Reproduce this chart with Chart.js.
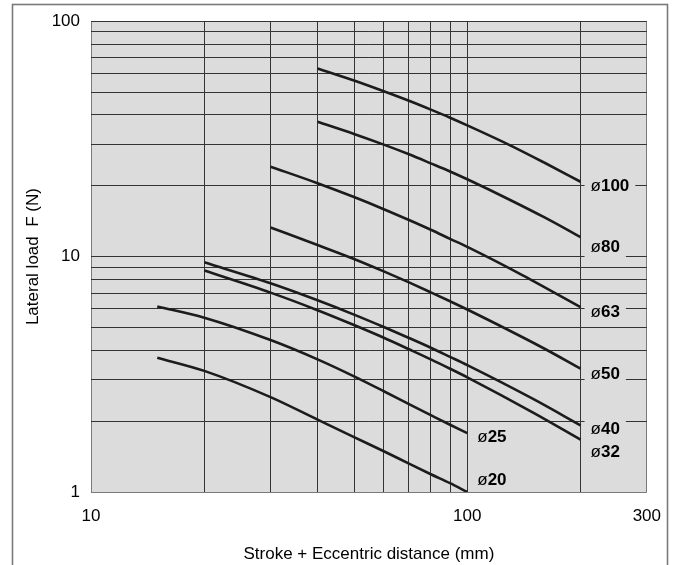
<!DOCTYPE html>
<html>
<head>
<meta charset="utf-8">
<script src="https://cdn.jsdelivr.net/npm/chart.js@4.4.0/dist/chart.umd.min.js"></script>
<style>
  html, body { margin: 0; padding: 0; background: #fff; }
  #wrap { width: 675px; height: 565px; }
</style>
</head>
<body>
<div id="wrap"><canvas id="chart" width="675" height="565"></canvas></div>
<script>
// Stroke + eccentric distance (mm) and lateral load F (N), one pair per bore
const bores = ['ø100', 'ø80', 'ø63', 'ø50', 'ø40', 'ø32', 'ø25', 'ø20'];

const stroke100 = [40, 50, 60, 70, 80, 90, 100, 130, 160, 200];
const load100   = [63.0, 56.0, 50.4, 45.9, 42.1, 38.9, 36.1, 29.7, 25.1, 20.8];

const stroke80  = [40, 50, 60, 70, 80, 90, 100, 130, 160, 200];
const load80    = [37.4, 33.2, 29.9, 27.2, 24.9, 23.0, 21.3, 17.4, 14.7, 12.1];

const stroke63  = [30, 40, 50, 60, 70, 80, 90, 100, 140, 200];
const load63    = [24.1, 20.5, 17.9, 15.9, 14.3, 13.0, 11.9, 11.0, 8.35, 6.1];

const stroke50  = [30, 40, 50, 60, 70, 80, 90, 100, 160, 200];
const load50    = [13.3, 11.2, 9.77, 8.65, 7.77, 7.05, 6.46, 5.96, 4.07, 3.34];

const stroke40  = [20, 30, 40, 50, 60, 70, 80, 90, 100, 150, 200];
const load40    = [9.46, 7.70, 6.52, 5.67, 5.02, 4.51, 4.10, 3.75, 3.46, 2.48, 1.92];

const stroke32  = [20, 30, 40, 50, 60, 70, 80, 90, 100, 150, 200];
const load32    = [8.72, 7.03, 5.92, 5.12, 4.52, 4.04, 3.66, 3.34, 3.07, 2.17, 1.67];

const stroke25  = [15, 20, 30, 40, 50, 60, 70, 80, 90, 100];
const load25    = [6.14, 5.50, 4.42, 3.66, 3.10, 2.68, 2.36, 2.12, 1.93, 1.78];

const stroke20  = [15, 20, 30, 40, 50, 60, 70, 80, 90, 100];
const load20    = [3.72, 3.27, 2.53, 2.03, 1.71, 1.49, 1.32, 1.19, 1.09, 1.0];

const xTicks = [10, 20, 30, 40, 50, 60, 70, 80, 90, 100, 200, 300];
const xTickLabels = [10, 100, 300];
const yTicks = [1, 2, 3, 4, 5, 6, 7, 8, 9, 10, 20, 30, 40, 50, 60, 70, 80, 90, 100];
const yTickLabels = [1, 10, 100];

const strokes = [stroke100, stroke80, stroke63, stroke50, stroke40, stroke32, stroke25, stroke20];
const loads = [load100, load80, load63, load50, load40, load32, load25, load20];

// label offsets from each curve's end point (px)
const labelOffsets = [[10, 5], [10, 10], [10, 5], [10, 6], [10, 4], [10, 13], [10, 4], [10, -12]];

const FONT = "'Liberation Sans', Arial, Helvetica, sans-serif";
const PLOT_BG = '#dcdcdc';

const datasets = bores.map((name, i) => ({
    label: name,
    data: strokes[i].map((s, j) => ({ x: s, y: loads[i][j] })),
    borderColor: '#1c1c1c',
    borderWidth: 2.6,
    pointRadius: 0,
    showLine: true,
    fill: false,
    cubicInterpolationMode: 'monotone'
}));

const backdrop = {
    id: 'backdrop',
    beforeDraw(chart) {
        const { ctx, chartArea: a } = chart;
        ctx.save();
        ctx.fillStyle = '#fff';
        ctx.fillRect(0, 0, chart.width, chart.height);
        ctx.strokeStyle = '#7a7a7a';
        ctx.lineWidth = 1.6;
        ctx.strokeRect(12.5, 4.5, 655, 600);
        ctx.fillStyle = PLOT_BG;
        ctx.fillRect(a.left, a.top, a.right - a.left, a.bottom - a.top);
        ctx.restore();
    }
};

const boreLabels = {
    id: 'boreLabels',
    afterDatasetsDraw(chart) {
        const { ctx, scales } = chart;
        ctx.save();
        ctx.textBaseline = 'middle';
        bores.forEach((name, i) => {
            const n = strokes[i].length;
            const px = scales.x.getPixelForValue(strokes[i][n - 1]) + labelOffsets[i][0];
            const py = scales.y.getPixelForValue(loads[i][n - 1]) + labelOffsets[i][1];
            const sym = name.charAt(0);
            const num = name.slice(1);
            ctx.font = '17px ' + FONT;
            const w1 = ctx.measureText(sym).width;
            ctx.font = 'bold 17px ' + FONT;
            const w2 = ctx.measureText(num).width;
            ctx.fillStyle = PLOT_BG;
            ctx.fillRect(px - 6, py - 10, w1 + w2 + 12, 20);
            ctx.fillStyle = '#000';
            ctx.font = '17px ' + FONT;
            ctx.fillText(sym, px, py);
            ctx.font = 'bold 17px ' + FONT;
            ctx.fillText(num, px + w1, py);
        });
        ctx.restore();
    }
};

new Chart(document.getElementById('chart'), {
    type: 'scatter',
    data: { datasets },
    options: {
        responsive: false,
        animation: false,
        layout: { padding: { left: 0, top: 20, right: 25, bottom: 0 } },
        plugins: { legend: { display: false }, tooltip: { enabled: false } },
        scales: {
            x: {
                type: 'logarithmic',
                min: 10,
                max: 300,
                afterBuildTicks: s => { s.ticks = xTicks.map(v => ({ value: v })); },
                afterFit: s => { s.height = 73; },
                border: { display: false },
                grid: {
                    drawTicks: false,
                    lineWidth: 1,
                    color: ctx => (ctx.tick && (ctx.tick.value === 10 || ctx.tick.value === 300)) ? '#7a7a7a' : '#333'
                },
                ticks: {
                    autoSkip: false,
                    maxRotation: 0,
                    padding: 14,
                    color: '#000',
                    font: { family: FONT, size: 17 },
                    callback: v => xTickLabels.includes(v) ? String(v) : ''
                },
                title: {
                    display: true,
                    text: 'Stroke + Eccentric distance (mm)',
                    color: '#000',
                    font: { family: FONT, size: 17 },
                    padding: { top: 3, bottom: 0 }
                }
            },
            y: {
                type: 'logarithmic',
                min: 1,
                max: 100,
                afterBuildTicks: s => { s.ticks = yTicks.map(v => ({ value: v })); },
                afterFit: s => { s.width = 91; },
                border: { display: false },
                grid: {
                    drawTicks: false,
                    lineWidth: 1,
                    color: ctx => (ctx.tick && ctx.tick.value === 1) ? '#7a7a7a' : '#333'
                },
                ticks: {
                    autoSkip: false,
                    padding: 11,
                    color: '#000',
                    font: { family: FONT, size: 17 },
                    callback: v => yTickLabels.includes(v) ? String(v) : ''
                },
                title: {
                    display: true,
                    text: 'Lateral load  F (N)',
                    color: '#000',
                    font: { family: FONT, size: 17 },
                    padding: { top: 23, bottom: 0 }
                }
            }
        }
    },
    plugins: [backdrop, boreLabels]
});
</script>
</body>
</html>
